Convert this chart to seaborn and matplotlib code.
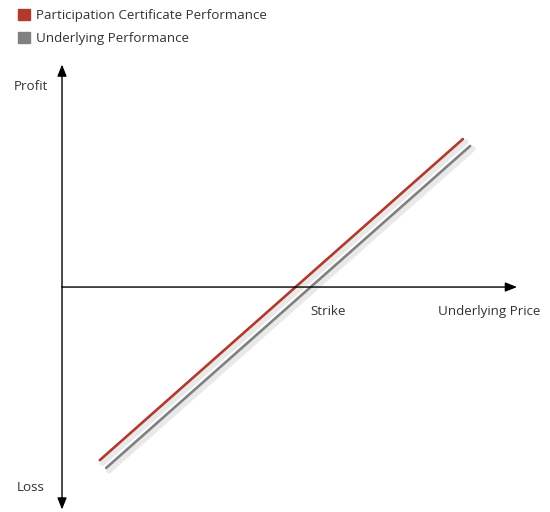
import pandas as pd
import matplotlib
matplotlib.use("Agg")
import matplotlib.pyplot as plt
import matplotlib.patheffects as pe
from matplotlib.patches import Patch
import seaborn as sns

# data (price on x, profit/loss on y, strike near 52)
series_names = ["Participation Certificate Performance", "Underlying Performance"]
cert_price = [8.3, 88.1]
cert_profit = [-77.8, 66.5]
under_price = [9.7, 89.7]
under_profit = [-81.3, 63.4]
colors = ["#B03A2E", "#808080"]

df = pd.DataFrame({
    "price": cert_price + under_price,
    "profit": cert_profit + under_profit,
    "series": [series_names[0]] * 2 + [series_names[1]] * 2,
})

sns.set_style("white")
plt.rcParams["font.family"] = ["Open Sans", "DejaVu Sans"]

fig = plt.figure(figsize=(5.5, 5.12), dpi=100)
ax = fig.add_axes([0, 0, 1, 1])
ax.set_xlim(-13.63, 107.25)
ax.set_ylim(-101.1, 129.0)
ax.axis("off")

sns.lineplot(data=df, x="price", y="profit", hue="series", palette=colors,
             linewidth=1.9, legend=False, ax=ax)
for ln in ax.get_lines():
    ln.set_path_effects([pe.SimpleLineShadow(offset=(2, -2), shadow_color="#aaaaaa", alpha=0.25, linewidth=4),
                         pe.Normal()])

# axes with arrow heads
arr = dict(arrowstyle="-|>,head_length=0.7,head_width=0.28", color="black", lw=1, shrinkA=0, shrinkB=0)
ax.annotate("", xy=(100, 0), xytext=(0, 0), arrowprops=arr)
ax.annotate("", xy=(0, 100), xytext=(0, 0), arrowprops=arr)
ax.annotate("", xy=(0, -100), xytext=(0, 0), arrowprops=arr)

fs = 9.6
ax.text(58.5, -10.8, "Strike", ha="center", va="center", fontsize=fs, color="#333333")
ax.text(93.8, -10.8, "Underlying Price", ha="center", va="center", fontsize=fs, color="#333333")
ax.text(-6.8, 90, "Profit", ha="center", va="center", fontsize=fs, color="#333333")
ax.text(-6.8, -90, "Loss", ha="center", va="center", fontsize=fs, color="#333333")

handles = [Patch(facecolor=c, edgecolor=c) for c in colors]
fig.legend(handles, series_names, loc="upper left", bbox_to_anchor=(0.01, 1.006),
           frameon=False, fontsize=fs, handlelength=0.9, handleheight=0.9,
           handletextpad=0.5, labelspacing=0.75, labelcolor="#333333")

fig.savefig("out.png", dpi=100)
